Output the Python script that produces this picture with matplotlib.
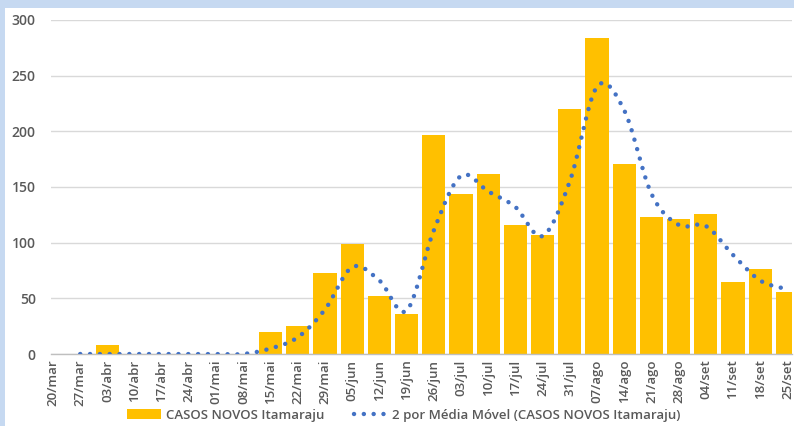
import numpy as np
import matplotlib
matplotlib.use("Agg")
import matplotlib.pyplot as plt
from matplotlib.patches import Rectangle

plt.rcParams['font.family'] = ['Open Sans', 'DejaVu Sans']

# Weekly dates (x axis)
semanas = ["20/mar", "27/mar", "03/abr", "10/abr", "17/abr", "24/abr", "01/mai",
           "08/mai", "15/mai", "22/mai", "29/mai", "05/jun", "12/jun", "19/jun",
           "26/jun", "03/jul", "10/jul", "17/jul", "24/jul", "31/jul", "07/ago",
           "14/ago", "21/ago", "28/ago", "04/set", "11/set", "18/set", "25/set"]

# New cases per week
casos_novos = [0, 0, 8, 0, 0, 0, 0, 0, 20, 25, 73, 99, 52, 36, 197, 144, 162,
               116, 107, 220, 284, 171, 123, 121, 126, 65, 76, 56]

# 2-period moving average, starting at the second week
media_movel = [0, 0, 0, 0, 0, 0, 0, 5, 15, 40, 78, 66, 39, 111, 160, 146,
               132, 106, 155, 240, 219, 144, 116, 115, 89, 66, 58]

y_ticks = [0, 50, 100, 150, 200, 250, 300]

serie_barras = "CASOS NOVOS Itamaraju"
serie_linha = "2 por Média Móvel (CASOS NOVOS Itamaraju)"

TXT = "#595959"
GRID = "#D9D9D9"
GOLD = "#FFC000"
BLUE = "#4472C4"


def suavizar(xs, ys, n=24):
    """Cardinal (Catmull-Rom) spline through the points, for a smoothed line."""
    xs = np.asarray(xs, float)
    ys = np.asarray(ys, float)
    k = len(xs)
    mx = np.gradient(xs)
    my = np.gradient(ys)
    out_x, out_y = [], []
    t = np.linspace(0, 1, n, endpoint=False)
    h00 = 2 * t**3 - 3 * t**2 + 1
    h10 = t**3 - 2 * t**2 + t
    h01 = -2 * t**3 + 3 * t**2
    h11 = t**3 - t**2
    for i in range(k - 1):
        out_x.append(h00 * xs[i] + h10 * mx[i] + h01 * xs[i + 1] + h11 * mx[i + 1])
        out_y.append(h00 * ys[i] + h10 * my[i] + h01 * ys[i + 1] + h11 * my[i + 1])
    out_x.append([xs[-1]])
    out_y.append([ys[-1]])
    return np.concatenate(out_x), np.concatenate(out_y)


fig = plt.figure(figsize=(7.94, 4.26), dpi=100)
fig.patch.set_facecolor("white")

# light blue frame strips along the top and left edges
fig.patches.append(Rectangle((0, 1 - 8 / 426), 1, 8 / 426, transform=fig.transFigure,
                             facecolor="#C6D9F1", edgecolor="none", zorder=0))
fig.patches.append(Rectangle((0, 0), 5 / 794, 1, transform=fig.transFigure,
                             facecolor="#C6D9F1", edgecolor="none", zorder=0))

ax = fig.add_axes([51 / 794, 72 / 426, 741 / 794, 334 / 426])

x = np.arange(len(semanas))
barras = ax.bar(x, casos_novos, width=0.85, color=GOLD, zorder=2)

xm = x[1:1 + len(media_movel)]
sx, sy = suavizar(xm, media_movel)
linha, = ax.plot(sx, sy, color=BLUE, linewidth=3.2, linestyle=(0, (0.01, 2.2)),
                 dash_capstyle="round", zorder=3)

ax.set_xlim(-0.074, 27.17)
ax.set_ylim(0, 300)
ax.set_yticks(y_ticks)
ax.set_xticks(x)
ax.set_xticklabels(semanas, rotation=90)

ax.grid(axis="y", color=GRID, linewidth=1)
ax.set_axisbelow(True)
for s in ["top", "right", "left"]:
    ax.spines[s].set_visible(False)
ax.spines["bottom"].set_color("#BFBFBF")
ax.spines["bottom"].set_linewidth(1)

ax.tick_params(axis="y", length=0, pad=11, labelsize=10, labelcolor=TXT)
ax.tick_params(axis="x", length=0, pad=4, labelsize=9.5, labelcolor=TXT)
for lbl in ax.get_xticklabels() + ax.get_yticklabels():
    lbl.set_fontweight("semibold")

leg = fig.legend([barras, linha], [serie_barras, serie_linha],
                 loc="center", bbox_to_anchor=(404 / 794, 1 - 415 / 426), ncol=2,
                 frameon=False, labelcolor=TXT, handlelength=2.6,
                 handleheight=0.85, handletextpad=0.35, columnspacing=2.2,
                 borderaxespad=0, prop={"weight": "semibold", "size": 9.5})

fig.savefig("out.png", dpi=100, facecolor=fig.get_facecolor())
